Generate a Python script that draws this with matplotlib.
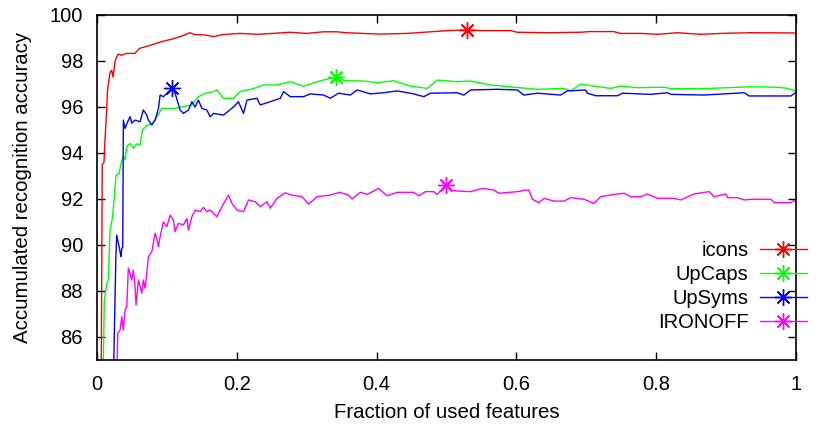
import numpy as np
import matplotlib
matplotlib.use("Agg")
import matplotlib.pyplot as plt
from matplotlib.lines import Line2D

plt.rcParams['font.family'] = ['Liberation Sans', 'DejaVu Sans']

# values
icons_x = [0.006, 0.0075, 0.010, 0.0115, 0.013, 0.015, 0.0186, 0.021, 0.023, 0.026,
           0.030, 0.035, 0.042, 0.054, 0.061, 0.069, 0.078, 0.085, 0.092, 0.107,
           0.121, 0.133, 0.140, 0.155, 0.167, 0.180, 0.205, 0.229, 0.252, 0.276,
           0.300, 0.324, 0.343, 0.356, 0.405, 0.444, 0.477, 0.501, 0.529, 0.549,
           0.592, 0.601, 0.644, 0.692, 0.706, 0.739, 0.749, 0.778, 0.802, 0.830,
           0.864, 0.893, 0.935, 1.0]
icons_y = [84.0, 93.5, 93.6, 94.6, 95.4, 96.7, 97.5, 97.6, 97.3, 98.0,
           98.3, 98.25, 98.33, 98.33, 98.55, 98.62, 98.7, 98.77, 98.84, 98.95,
           99.08, 99.23, 99.15, 99.13, 99.06, 99.15, 99.2, 99.16, 99.2, 99.25,
           99.2, 99.27, 99.27, 99.23, 99.17, 99.2, 99.27, 99.32, 99.35, 99.32,
           99.32, 99.25, 99.23, 99.25, 99.28, 99.28, 99.2, 99.2, 99.16, 99.23,
           99.16, 99.2, 99.23, 99.22]

upcaps_x = [0.0085, 0.0105, 0.0139, 0.0162, 0.0186, 0.0219, 0.0248, 0.0272, 0.0315, 0.0344,
            0.0377, 0.0401, 0.0426, 0.0473, 0.052, 0.0569, 0.0616, 0.0649, 0.0712, 0.0784,
            0.0831, 0.0927, 0.1117, 0.1213, 0.1357, 0.1451, 0.1547, 0.1666, 0.1715, 0.181,
            0.1953, 0.2049, 0.2239, 0.2383, 0.2575, 0.2765, 0.2956, 0.3148, 0.3338, 0.3424,
            0.3553, 0.3811, 0.4007, 0.4245, 0.4484, 0.4724, 0.4867, 0.5153, 0.5344, 0.563,
            0.5964, 0.63, 0.668, 0.6777, 0.692, 0.7063, 0.735, 0.7493, 0.7732, 0.8113,
            0.8209, 0.8686, 0.9355, 0.9738, 0.9881, 1.0]
upcaps_y = [84.0, 87.6, 88.3, 88.5, 90.65, 91.16, 92.1, 93.04, 93.1, 93.55,
            93.9, 93.7, 94.27, 94.42, 94.2, 94.4, 94.35, 95.0, 95.2, 95.26,
            95.45, 95.94, 95.94, 96.0, 96.09, 96.45, 96.6, 96.67, 96.74, 96.38,
            96.38, 96.67, 96.8, 96.96, 96.96, 97.1, 96.9, 97.1, 97.25, 97.29,
            97.14, 97.13, 97.06, 97.14, 96.91, 96.81, 97.17, 97.1, 97.13, 96.96,
            96.86, 96.77, 96.81, 96.7, 97.0, 96.93, 96.81, 96.91, 96.84, 96.86,
            96.8, 96.8, 96.88, 96.86, 96.81, 96.7]

upsyms_x = [0.0234, 0.027, 0.0282, 0.0306, 0.033, 0.0344, 0.0354, 0.0368, 0.0377, 0.0401,
            0.044, 0.0473, 0.0497, 0.0544, 0.0616, 0.0663, 0.0712, 0.0735, 0.0784, 0.0831,
            0.0879, 0.0903, 0.0951, 0.0999, 0.1046, 0.107, 0.1117, 0.1189, 0.1237, 0.1309,
            0.1357, 0.1404, 0.1451, 0.15, 0.1571, 0.1619, 0.1666, 0.181, 0.1953, 0.2024,
            0.2096, 0.2145, 0.2288, 0.2335, 0.2479, 0.2622, 0.2669, 0.2765, 0.2956, 0.3052,
            0.3242, 0.3338, 0.3457, 0.3625, 0.3721, 0.3911, 0.4102, 0.4294, 0.4532, 0.4675,
            0.4771, 0.5153, 0.5248, 0.5344, 0.5726, 0.6013, 0.6107, 0.63, 0.6633, 0.6729,
            0.6991, 0.7016, 0.7135, 0.7446, 0.7517, 0.7923, 0.8162, 0.8209, 0.8686, 0.9259,
            0.9331, 0.9928, 1.0]
upsyms_y = [84.0, 89.5, 90.43, 90.07, 89.7, 89.5, 89.86, 89.9, 95.43, 95.07,
            95.36, 95.58, 95.3, 95.43, 95.36, 95.87, 95.65, 95.43, 95.22, 95.43,
            95.94, 96.52, 96.45, 96.6, 96.74, 96.81, 96.6, 95.87, 95.72, 95.87,
            96.23, 96.0, 96.3, 95.94, 95.87, 95.58, 95.72, 95.65, 96.0, 96.23,
            95.72, 96.3, 96.38, 96.09, 96.23, 96.38, 96.67, 96.45, 96.45, 96.57,
            96.52, 96.38, 96.6, 96.52, 96.74, 96.57, 96.62, 96.7, 96.57, 96.45,
            96.6, 96.62, 96.52, 96.74, 96.77, 96.74, 96.52, 96.6, 96.52, 96.7,
            96.74, 96.6, 96.49, 96.49, 96.6, 96.55, 96.62, 96.55, 96.52, 96.62,
            96.48, 96.48, 96.64]

ironoff_x = [0.0282, 0.0297, 0.033, 0.0354, 0.0377, 0.0401, 0.0426, 0.0448, 0.0473, 0.0497,
             0.052, 0.0544, 0.0559, 0.0592, 0.064, 0.0663, 0.0688, 0.0712, 0.0735, 0.0784,
             0.0831, 0.0855, 0.0878, 0.0903, 0.095, 0.0999, 0.1046, 0.1093, 0.1117, 0.1165,
             0.1236, 0.1285, 0.1308, 0.1357, 0.1404, 0.1476, 0.1523, 0.1572, 0.1619, 0.1666,
             0.1715, 0.1787, 0.1881, 0.193, 0.2001, 0.2096, 0.2168, 0.2264, 0.2335, 0.2431,
             0.2479, 0.2575, 0.2693, 0.2789, 0.2933, 0.3027, 0.3148, 0.3338, 0.3471, 0.36,
             0.3649, 0.3768, 0.3864, 0.403, 0.415, 0.4294, 0.4532, 0.4603, 0.4699, 0.4818,
             0.4867, 0.4986, 0.5057, 0.5153, 0.5344, 0.5511, 0.5678, 0.5749, 0.6013, 0.6132,
             0.6179, 0.6228, 0.6323, 0.6394, 0.6537, 0.668, 0.6777, 0.6967, 0.711, 0.7206,
             0.7397, 0.754, 0.7636, 0.7779, 0.7875, 0.8018, 0.8256, 0.8352, 0.8543, 0.8758,
             0.883, 0.8997, 0.9021, 0.9165, 0.9259, 0.938, 0.9642, 0.969, 0.9928, 0.9952,
             1.0]
ironoff_y = [84.0, 86.16, 86.3, 86.88, 86.3, 87.17, 87.32, 88.99, 88.77, 88.48,
             88.9, 88.19, 87.39, 88.48, 87.9, 88.48, 88.12, 88.77, 89.49, 89.71,
             90.51, 90.29, 89.93, 90.36, 91.01, 90.8, 91.3, 91.09, 90.58, 90.94,
             90.87, 91.16, 90.65, 91.23, 91.52, 91.45, 91.64, 91.45, 91.52, 91.38,
             91.23, 91.67, 92.17, 91.81, 91.52, 91.45, 91.96, 91.88, 91.67, 91.88,
             91.6, 92.03, 92.27, 92.17, 92.1, 91.78, 92.1, 92.17, 92.29, 92.17,
             92.0, 92.29, 92.2, 92.46, 92.14, 92.29, 92.29, 92.14, 92.32, 92.32,
             92.2, 92.6, 92.39, 92.35, 92.32, 92.46, 92.39, 92.25, 92.32, 92.39,
             92.39, 91.99, 91.84, 92.03, 91.91, 91.91, 92.06, 91.99, 91.81, 92.1,
             92.2, 92.25, 92.1, 92.1, 92.22, 92.03, 92.03, 91.96, 92.22, 92.32,
             92.1, 92.22, 92.06, 92.06, 91.96, 91.99, 91.99, 91.84, 91.84, 91.91,
             91.91]

names = ["icons", "UpCaps", "UpSyms", "IRONOFF"]
colors = ["#ff0000", "#00ff00", "#0000ff", "#ff00ff"]
series = [(icons_x, icons_y), (upcaps_x, upcaps_y), (upsyms_x, upsyms_y), (ironoff_x, ironoff_y)]

star = (8, 2, 0)   # gnuplot-like asterisk

fig = plt.figure(figsize=(8.19, 4.26), dpi=100)
ax = fig.add_axes([97 / 819, 1 - 360 / 426, 699 / 819, 345 / 426])

handles = []
for name, col, (xs, ys) in zip(names, colors, series):
    xs = np.array(xs)
    ys = np.array(ys)
    ax.plot(xs, ys, color=col, linewidth=1.0)
    # mark the best accuracy
    k = np.argmax(ys)
    ax.plot(xs[k], ys[k], linestyle="none", marker=star, markersize=12,
            markeredgewidth=1.0, color=col)
    handles.append(Line2D([], [], color=col, linewidth=1.0, marker=star,
                          markersize=12, markeredgewidth=1.0, label=name))

ax.set_xlim(0, 1)
ax.set_ylim(85, 100)
ax.set_xticks([0, 0.2, 0.4, 0.6, 0.8, 1.0])
ax.set_xticklabels(["0", "0.2", "0.4", "0.6", "0.8", "1"])
ax.set_yticks(np.arange(86, 101, 2))

ax.tick_params(direction="in", length=6, width=1, top=True, right=True,
               labelsize=14.5, color="black")
ax.tick_params(axis="x", pad=11)
ax.tick_params(axis="y", pad=10)
for sp in ax.spines.values():
    sp.set_linewidth(1.2)

ax.set_xlabel("Fraction of used features", fontsize=14.7)
ax.set_ylabel("Accumulated recognition accuracy", fontsize=14.7)
ax.xaxis.set_label_coords(0.5, -0.125)
ax.yaxis.set_label_coords(-0.093, 0.5)

ax.legend(handles=handles, loc="center right", bbox_to_anchor=(807 / 819, 1 - 286.5 / 426),
          bbox_transform=fig.transFigure, frameon=False, markerfirst=False,
          fontsize=14.5, handlelength=2.35, handletextpad=0.55, labelspacing=0.25,
          borderpad=0, borderaxespad=0)

fig.savefig("out.png", dpi=100)
